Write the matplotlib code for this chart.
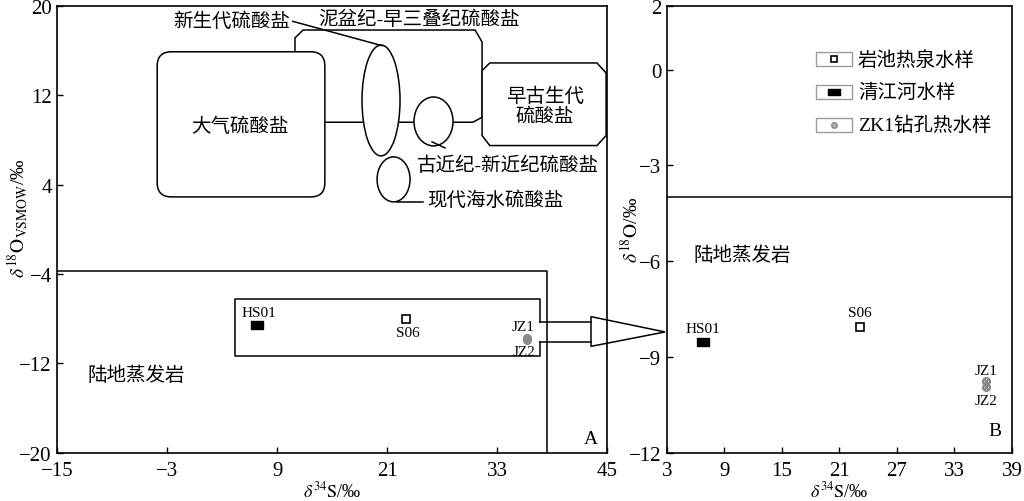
import matplotlib.pyplot as plt
from matplotlib.patches import Ellipse, Polygon, FancyBboxPatch, Rectangle
from matplotlib.path import Path

plt.rcParams['font.family'] = ['Liberation Serif', 'Noto Sans CJK SC']
plt.rcParams['mathtext.fontset'] = 'stix'
plt.rcParams['axes.unicode_minus'] = True

# %% data
sampleNames = ['HS01', 'S06', 'JZ1', 'JZ2']
sampleKind = ['river', 'spring', 'well', 'well']
d34S = [6.8, 23.1, 36.3, 36.3]
d18O = [-8.55, -8.05, -9.76, -9.94]

legendLabels = ['岩池热泉水样', '清江河水样', 'ZK1钻孔热水样']

# sulfate source fields (delta34S, delta18O)
atmBox = (-4.1, 2.9, 14.2, 15.9)            # x0, y0, x1, y1
devonianPoly = [(10.94, 9.59), (10.94, 17.14), (11.82, 17.85), (30.6, 17.85),
                (31.36, 16.78), (31.36, 10.04), (30.37, 9.59)]
earlyPalPoly = [(31.36, 14.21), (32.2, 14.9), (43.9, 14.9), (44.9, 14.0),
                (44.9, 8.4), (43.9, 7.5), (32.2, 7.5), (31.36, 8.4)]
cenozoicEll = (20.33, 11.54, 4.15, 9.93)     # cx, cy, w, h
paleoNeoEll = (26.06, 9.66, 4.26, 4.38)
seawaterEll = (21.7, 4.47, 3.6, 4.03)
evapA = (-15, -20, 38.45, -3.7)
sampleBox = (4.4, -11.36, 37.69, -6.28)
notchY = (-8.28, -10.07)
arrowBaseX = 43.25
arrowTip = (51.33, -9.2)
arrowHalf = (-7.83, -10.49)
evapB = -4.0

rectMarker = Path([(-1, -0.58), (1, -0.58), (1, 0.58), (-1, 0.58), (-1, -0.58)],
                  [1, 2, 2, 2, 79])
gray = '#8a8a8a'
lw = 1.1

def drawSample(ax, x, y, kind, scale=1.0):
  if kind == 'river':
    ax.plot(x, y, marker=rectMarker, ms=8.8 * scale, color='k', ls='none', zorder=6, clip_on=False)
  elif kind == 'spring':
    ax.plot(x, y, marker='s', ms=5.2 * scale, mfc='white', mec='k', mew=1.2, ls='none', zorder=6, clip_on=False)
  else:
    ax.plot(x, y, marker=r'$\otimes$', ms=5.5 * scale, color=gray, ls='none', zorder=6, clip_on=False)

def styleAxes(ax, xt, yt):
  ax.set_xticks(xt)
  ax.set_yticks(yt)
  ax.set_xlim(xt[0], xt[-1])
  ax.tick_params(direction='in', length=4, width=1, labelsize=15, pad=4)
  ax.tick_params(axis='x', pad=6)
  for s in ax.spines.values():
    s.set_linewidth(1.2)

fig = plt.figure(figsize=(10.24, 5.02), dpi=100)
axA = fig.add_axes([0.0560, 0.0966, 0.5368, 0.8894])
axB = fig.add_axes([0.6511, 0.0966, 0.3372, 0.8894])

# %% panel A
styleAxes(axA, [-15, -3, 9, 21, 33, 45], [-20, -12, -4, 4, 12, 20])
axA.set_ylim(-20, 20)

axA.add_patch(Polygon(devonianPoly, closed=True, fc='white', ec='k', lw=lw, zorder=1))
axA.add_patch(FancyBboxPatch((atmBox[0], atmBox[1]), atmBox[2] - atmBox[0], atmBox[3] - atmBox[1],
                             boxstyle='round,pad=0,rounding_size=1.55', mutation_aspect=0.82,
                             fc='white', ec='k', lw=lw, zorder=2))
axA.add_patch(Polygon(earlyPalPoly, closed=True, fc='white', ec='k', lw=lw, zorder=2))
for cx, cy, w, h in [cenozoicEll, paleoNeoEll, seawaterEll]:
  axA.add_patch(Ellipse((cx, cy), w, h, fc='white', ec='k', lw=lw, zorder=3))

# leaders
axA.plot([10.69, 20.43], [18.63, 16.45], color='k', lw=lw, zorder=4)
axA.plot([25.9, 27.32], [7.83, 7.29], color='k', lw=lw, zorder=4)
axA.plot([22.08, 24.92], [2.46, 2.46], color='k', lw=lw, zorder=4)

cjk = 14
axA.text(4.07, 18.66, '新生代硫酸盐', fontsize=cjk, ha='center', va='center')
axA.text(24.5, 18.84, '泥盆纪-早三叠纪硫酸盐', fontsize=cjk, ha='center', va='center')
axA.text(4.95, 9.26, '大气硫酸盐', fontsize=cjk, ha='center', va='center', zorder=5)
axA.text(38.2, 11.1, '早古生代\n硫酸盐', fontsize=cjk, ha='center', va='center', linespacing=1.15, zorder=5)
axA.text(24.26, 5.8, '古近纪-新近纪硫酸盐', fontsize=cjk, ha='left', va='center')
axA.text(25.35, 2.64, '现代海水硫酸盐', fontsize=cjk, ha='left', va='center')

# evaporite field and sample box
ex0, ey0, ex1, ey1 = evapA
axA.plot([ex0, ex1, ex1], [ey1, ey1, ey0], color='k', lw=lw)
bx0, by0, bx1, by1 = sampleBox
axA.plot([bx1, bx1, bx0, bx0, bx1, bx1], [notchY[0], by1, by1, by0, by0, notchY[1]], color='k', lw=lw)
for ny in notchY:
  axA.plot([bx1, arrowBaseX], [ny, ny], color='k', lw=lw, clip_on=False)
axA.add_patch(Polygon([(arrowBaseX, arrowHalf[0]), arrowTip, (arrowBaseX, arrowHalf[1])], closed=True,
                      fill=False, ec='k', lw=lw, clip_on=False, zorder=5))
axA.text(-6.4, -13.05, '陆地蒸发岩', fontsize=cjk, ha='center', va='center')
axA.text(43.2, -18.75, 'A', fontsize=14, ha='center', va='center')

offA = [(1.4, 8.6), (1, -9.6), (-3.2, 8.6), (-2.2, -7.9)]
for name, kind, x, y, off in zip(sampleNames, sampleKind, d34S, d18O, offA):
  drawSample(axA, x, y, kind)
  axA.annotate(name, (x, y), xytext=off, textcoords='offset points', ha='center', va='center', fontsize=11)

axA.set_xlabel(r'$\delta^{34}\mathrm{S}$/‰', fontsize=13)
axA.set_ylabel(r'$\delta^{18}\mathrm{O}_{\mathrm{VSMOW}}$/‰', fontsize=14)
axA.yaxis.set_label_coords(-0.05, 0.527)
axA.xaxis.set_label_coords(0.5, -0.063)

# %% panel B
styleAxes(axB, [3, 9, 15, 21, 27, 33, 39], [-12, -9, -6, -3, 0, 2])
axB.set_ylim(-12, 2)
axB.axhline(evapB, color='k', lw=lw)
axB.text(10.9, -5.8, '陆地蒸发岩', fontsize=cjk, ha='center', va='center')
axB.text(37.25, -11.3, 'B', fontsize=14, ha='center', va='center')

offB = [(0, 9.9), (0, 9.9), (0, 7.9), (0, -9.6)]
for name, kind, x, y, off in zip(sampleNames, sampleKind, d34S, d18O, offB):
  drawSample(axB, x, y, kind)
  axB.annotate(name, (x, y), xytext=off, textcoords='offset points', ha='center', va='center', fontsize=11)

# legend boxes
boxY = [0.8648, 0.7915, 0.7168]
for kind, label, yb in zip(['spring', 'river', 'well'], legendLabels, boxY):
  axB.add_patch(Rectangle((0.4315, yb), 0.1043, 0.0325, transform=axB.transAxes,
                          fill=False, ec='#9a9a9a', lw=1))
  cy = yb + 0.0162
  if kind == 'spring':
    axB.plot(0.4836, cy, marker='s', ms=4.6, mfc='white', mec='k', mew=1.2, transform=axB.transAxes)
  elif kind == 'river':
    axB.plot(0.4836, cy, marker=rectMarker, ms=8.5, color='k', transform=axB.transAxes)
  else:
    axB.plot(0.4836, cy, marker='o', ms=4, mfc='#b0b0b0', mec=gray, mew=1, transform=axB.transAxes)
  axB.text(0.554, cy, label, fontsize=cjk, ha='left', va='center', transform=axB.transAxes)

axB.set_xlabel(r'$\delta^{34}\mathrm{S}$/‰', fontsize=13)
axB.set_ylabel(r'$\delta^{18}\mathrm{O}$/‰', fontsize=14)
axB.yaxis.set_label_coords(-0.072, 0.5)
axB.xaxis.set_label_coords(0.5, -0.063)

plt.savefig('out.png', dpi=100)
